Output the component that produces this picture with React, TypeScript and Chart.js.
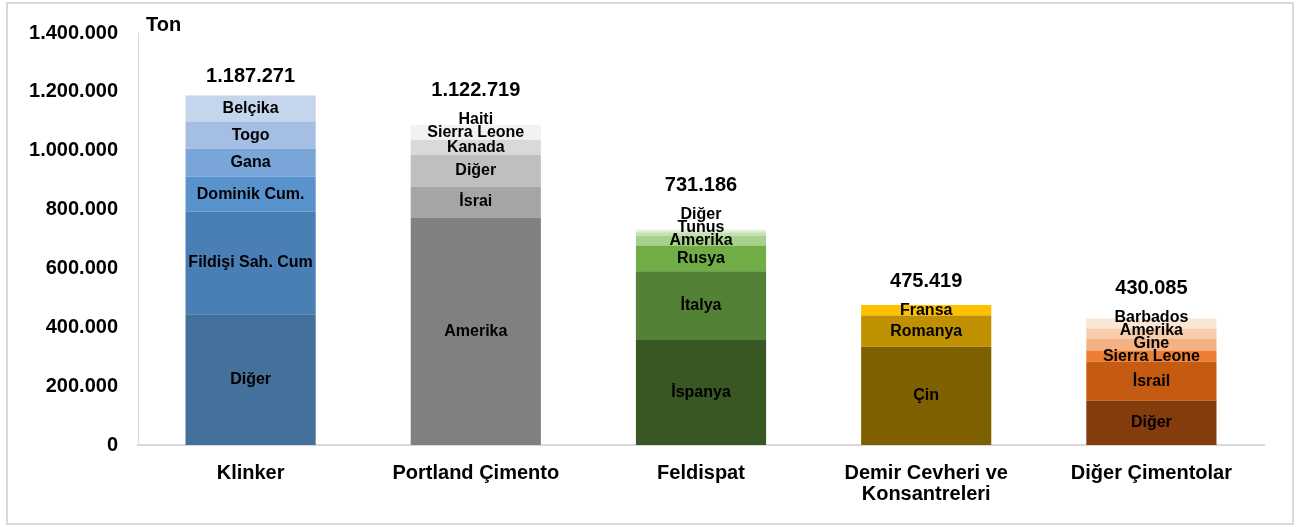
import React, { useEffect, useRef } from 'react';
import { Chart, registerables } from 'chart.js';

Chart.register(...registerables);

const categories: (string | string[])[] = [
  'Klinker',
  'Portland Çimento',
  'Feldispat',
  ['Demir Cevheri ve', 'Konsantreleri'],
  'Diğer Çimentolar',
];
const totals = [1187271, 1122719, 731186, 475419, 430085];
const yTicks = [0, 200000, 400000, 600000, 800000, 1000000, 1200000, 1400000];

// segments listed bottom -> top
const klinkerNames = ['Diğer', 'Fildişi Sah. Cum', 'Dominik Cum.', 'Gana', 'Togo', 'Belçika'];
const klinkerValues = [444000, 349000, 119000, 95000, 92000, 88271];
const klinkerColors = ['#44709c', '#4a7fb6', '#5893cd', '#79a5d9', '#a4bfe3', '#c4d5ec'];

const portlandNames = ['Amerika', 'İsrai', 'Diğer', 'Kanada', 'Sierra Leone', 'Haiti'];
const portlandValues = [773000, 105000, 108000, 51000, 51000, 34719];
const portlandColors = ['#808080', '#a5a5a5', '#bfbfbf', '#d9d9d9', '#f2f2f2', '#ffffff'];

const feldispatNames = ['İspanya', 'İtalya', 'Rusya', 'Amerika', 'Tunus', 'Diğer'];
const feldispatValues = [359000, 231000, 88000, 34000, 11000, 8186];
const feldispatColors = ['#385723', '#538135', '#70ad47', '#a9d18e', '#c5e0b4', '#e2f0d9'];

const demirNames = ['Çin', 'Romanya', 'Fransa'];
const demirValues = [334000, 106000, 35419];
const demirColors = ['#7f6000', '#bf9000', '#ffc000'];

const digerNames = ['Diğer', 'İsrail', 'Sierra Leone', 'Gine', 'Amerika', 'Barbados'];
const digerValues = [150000, 133000, 38000, 40000, 35000, 34085];
const digerColors = ['#843c0c', '#c55a11', '#ed7d31', '#f4b183', '#f8cbad', '#fbe5d6'];

const groups = [
  { names: klinkerNames, values: klinkerValues, colors: klinkerColors },
  { names: portlandNames, values: portlandValues, colors: portlandColors },
  { names: feldispatNames, values: feldispatValues, colors: feldispatColors },
  { names: demirNames, values: demirValues, colors: demirColors },
  { names: digerNames, values: digerValues, colors: digerColors },
];

const FONT = '"Liberation Sans", Arial, Helvetica, sans-serif';
const fmt = (n: number) => String(n).replace(/\B(?=(\d{3})+(?!\d))/g, '.');

const layerCount = Math.max(...groups.map((g) => g.values.length));
const datasets = Array.from({ length: layerCount }, (_, i) => ({
  label: 'layer' + i,
  data: groups.map((g) => (g.values[i] !== undefined ? g.values[i] : null)),
  backgroundColor: groups.map((g) => g.colors[i] || 'rgba(0,0,0,0)'),
  names: groups.map((g) => g.names[i] || ''),
  borderWidth: 0,
  barPercentage: 0.578,
  categoryPercentage: 1,
}));

const framePlugin = {
  id: 'frame',
  beforeDraw(chart: any) {
    const ctx = chart.ctx;
    ctx.save();
    ctx.fillStyle = '#ffffff';
    ctx.fillRect(0, 0, chart.width, chart.height);
    ctx.strokeStyle = '#d9d9d9';
    ctx.lineWidth = 2;
    ctx.strokeRect(7, 3, 1286, 521);
    ctx.restore();
  },
};

const labelPlugin = {
  id: 'segLabels',
  afterDatasetsDraw(chart: any) {
    const ctx = chart.ctx;
    ctx.save();
    ctx.fillStyle = '#000';
    ctx.textAlign = 'center';
    ctx.textBaseline = 'middle';
    const n = chart.data.labels.length;
    for (let j = 0; j < n; j++) {
      const items: any[] = [];
      chart.data.datasets.forEach((ds: any, i: number) => {
        if (ds.data[j] == null) return;
        const el = chart.getDatasetMeta(i).data[j];
        items.push({ x: el.x, y: (el.y + el.base) / 2, top: el.y, text: ds.names[j] });
      });
      if (!items.length) continue;
      for (let k = 1; k < items.length; k++) {
        items[k].y = Math.min(items[k].y, items[k - 1].y - 13);
      }
      ctx.font = 'bold 16px ' + FONT;
      items.forEach((it) => ctx.fillText(it.text, it.x, it.y));
      const last = items[items.length - 1];
      const ty = Math.min(last.top - 19, last.y - 29);
      ctx.font = 'bold 20px ' + FONT;
      ctx.fillText(fmt(totals[j]), last.x, ty);
    }
    ctx.font = 'bold 20px ' + FONT;
    ctx.textAlign = 'left';
    ctx.fillText('Ton', chart.chartArea.left + 8, 25);
    ctx.restore();
  },
};

export default function App() {
  const ref = useRef<HTMLCanvasElement | null>(null);
  useEffect(() => {
    document.body.style.margin = '0';
    if (!ref.current) return;
    const chart = new Chart(ref.current, {
      type: 'bar',
      data: { labels: categories as any, datasets: datasets as any },
      options: {
        animation: false,
        responsive: false,
        devicePixelRatio: 1,
        layout: { padding: { left: 0, right: 37, top: 33, bottom: 0 } },
        plugins: {
          legend: { display: false },
          tooltip: { enabled: false },
          title: { display: false },
        },
        scales: {
          x: {
            stacked: true,
            grid: { display: false, drawTicks: false },
            border: { display: true, color: '#d9d9d9', width: 2 },
            ticks: {
              color: '#000',
              padding: 18,
              font: { family: FONT, size: 20, weight: 'bold', lineHeight: 1.05 },
              maxRotation: 0,
              autoSkip: false,
            },
            afterFit: (s: any) => {
              s.height = 82;
            },
          },
          y: {
            stacked: true,
            min: 0,
            max: 1400000,
            afterBuildTicks: (s: any) => {
              s.ticks = yTicks.map((v) => ({ value: v }));
            },
            grid: { display: false, drawTicks: false },
            border: { display: true, color: '#d9d9d9', width: 1 },
            ticks: {
              color: '#000',
              padding: 20,
              font: { family: FONT, size: 20, weight: 'bold' },
              callback: (v: any) => fmt(Number(v)),
            },
            afterFit: (s: any) => {
              s.width = 138;
            },
          },
        },
      },
      plugins: [framePlugin, labelPlugin],
    });
    return () => chart.destroy();
  }, []);
  return (
    <div style={{ width: 1301, height: 527 }}>
      <canvas ref={ref} width={1301} height={527} style={{ display: 'block', width: 1301, height: 527 }} />
    </div>
  );
}
